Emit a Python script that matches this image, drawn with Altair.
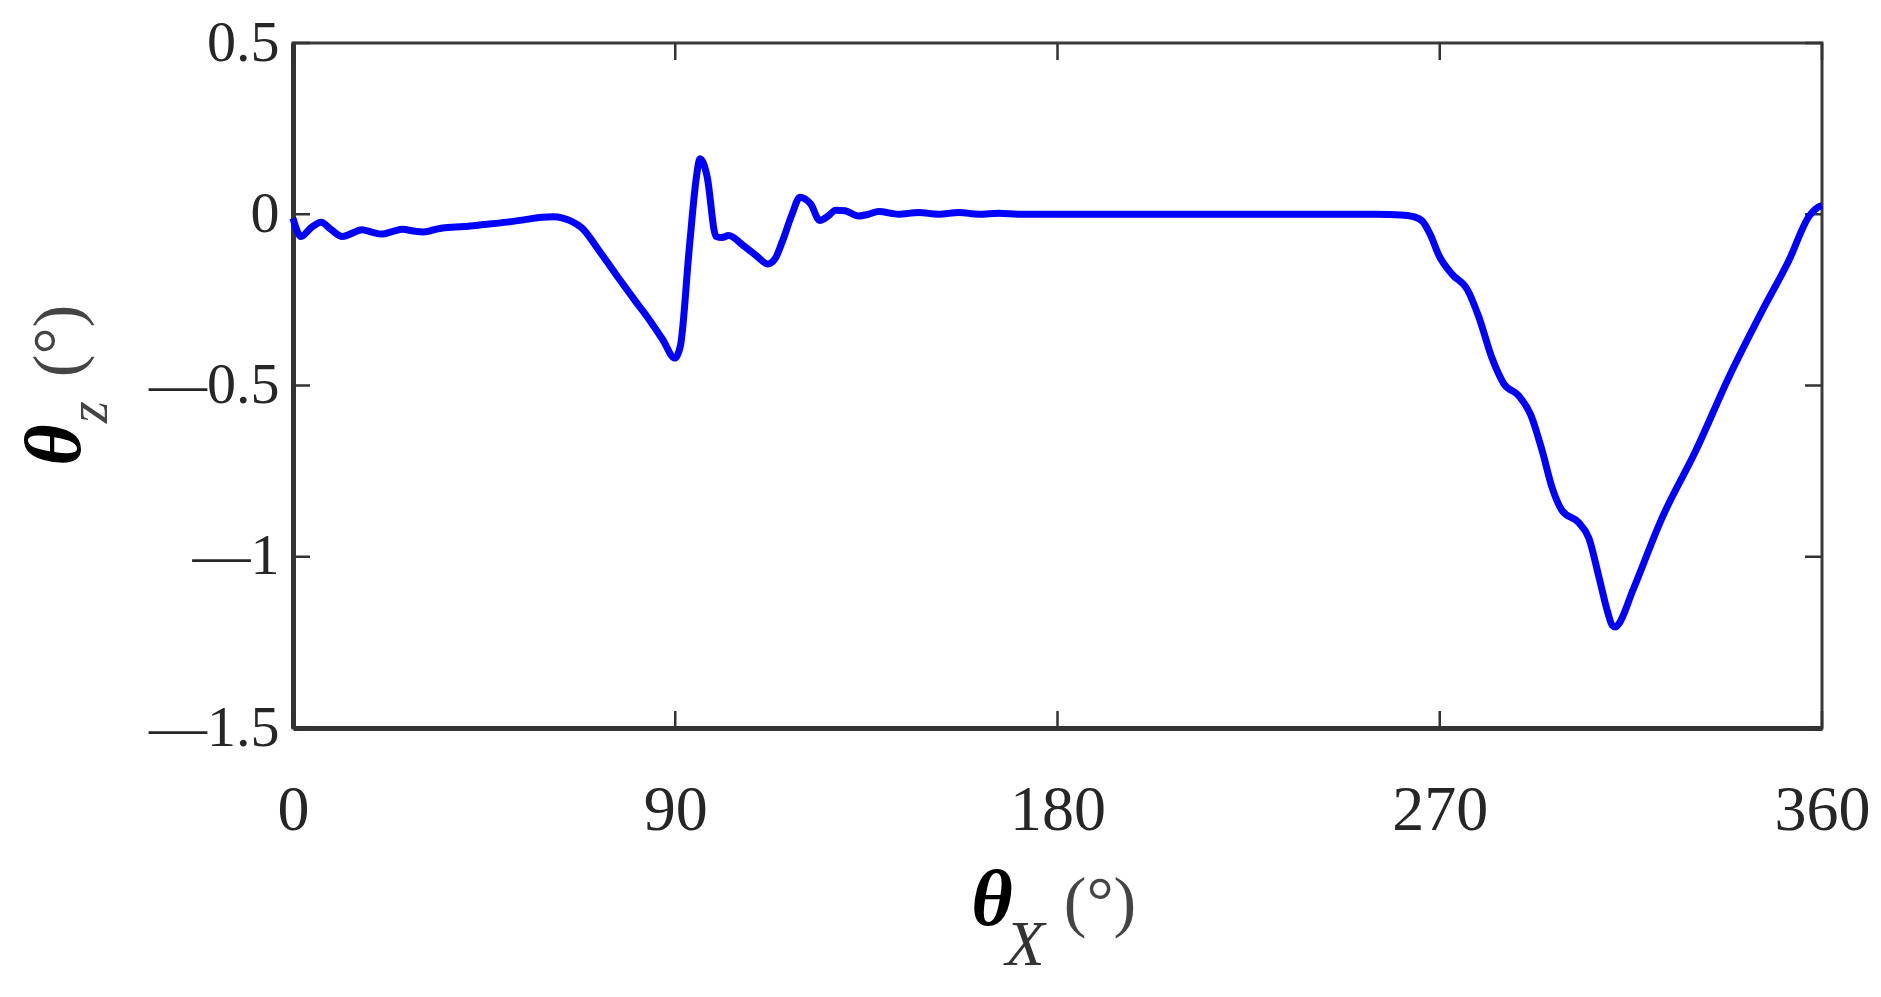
import altair as alt
import pandas as pd

# ---- data ----
theta_x = [0, 1.9, 4.2, 6.6, 9, 11.6, 14, 16.2, 18.5, 20.9, 23.5, 25.9, 28.3, 30.6, 33, 35.2,
           40.3, 45, 50.4, 55, 58.5, 61.3, 63.5, 65.5, 68, 72, 76, 80.7, 84, 87, 89.9, 91.2,
           93.3, 95, 95.8, 96.6, 97.5, 99.6, 101, 102.6, 105.9, 109, 111.8, 113.5, 115.2,
           117.5, 119.4, 120.5, 121.9, 124, 126, 127.8, 130, 133.2, 135.5, 137.9, 142.6,
           147.3, 152, 156.8, 161.5, 166.2, 171, 180, 200, 220, 240, 255, 261, 263.5, 265.9,
           267.8, 269.8, 272.9, 276.5, 279.2, 282.3, 285.1, 288.6, 291.4, 294.1, 296.5,
           298.8, 302.7, 305.1, 307.5, 309.5, 310.6, 311.4, 312.2, 315.4, 322.4, 330.3,
           338.1, 346, 352.2, 357, 359, 360]
theta_z = [-0.012, -0.065, -0.04, -0.023, -0.045, -0.065, -0.055, -0.045, -0.052, -0.058,
           -0.05, -0.044, -0.049, -0.052, -0.046, -0.04, -0.036, -0.03, -0.023, -0.015,
           -0.009, -0.007, -0.011, -0.02, -0.04, -0.105, -0.175, -0.255, -0.31, -0.365,
           -0.42, -0.385, -0.1, 0.11, 0.162, 0.15, 0.11, -0.065, -0.068, -0.062, -0.09,
           -0.12, -0.145, -0.13, -0.08, 0.0, 0.05, 0.045, 0.03, -0.018, -0.005, 0.012,
           0.01, -0.005, 0.0, 0.008, 0.0, 0.005, 0.0, 0.005, 0.0, 0.003, 0.0, 0.0, 0.0,
           0.0, 0.0, 0.0, -0.002, -0.006, -0.02, -0.06, -0.12, -0.175, -0.22, -0.30, -0.42,
           -0.495, -0.53, -0.585, -0.69, -0.80, -0.865, -0.90, -0.945, -1.06, -1.16, -1.2,
           -1.205, -1.195, -1.10, -0.885, -0.69, -0.475, -0.28, -0.135, -0.005, 0.02, 0.025]

x_ticks = [0, 90, 180, 270, 360]
y_ticks = [0.5, 0, -0.5, -1, -1.5]

x_title_parts = ["θ", "X", "(°)"]
y_title_parts = ["θ", "z", "(°)"]

W, H = 1529, 685
TICK = 17
FONT = "Liberation Serif"
AX = "#333333"

df = pd.DataFrame({"x": theta_x, "z": theta_z})
xt = pd.DataFrame({"v": x_ticks})
yt = pd.DataFrame({"v": y_ticks})

xscale = alt.Scale(domain=[0, 360], nice=False, zero=False)
yscale = alt.Scale(domain=[-1.5, 0.5], nice=False, zero=False)

xaxis = alt.Axis(values=x_ticks, title=None, grid=False, ticks=False, domainWidth=5,
                 domainColor=AX, labelFont=FONT, labelFontSize=64, labelColor="#262626",
                 labelPadding=50, labelFlush=False, labelOverlap=False, format="d")
yaxis = alt.Axis(values=y_ticks, title=None, grid=False, ticks=False, domainWidth=5,
                 domainColor=AX, labelFont=FONT, labelFontSize=58, labelColor="#262626",
                 labelPadding=14, labelFlush=False, labelOverlap=False, format=".1~f",
                 labelExpr="replace(datum.label, '−', '—')")

X = alt.X("x:Q", scale=xscale, axis=xaxis)
Y = alt.Y("z:Q", scale=yscale, axis=yaxis)

line = alt.Chart(df).mark_line(color="#0000ff", strokeWidth=7,
                               interpolate="monotone").encode(x=X, y=Y)

xtick_b = alt.Chart(xt).mark_rule(color=AX, strokeWidth=2.5).encode(
    x=alt.X("v:Q", scale=xscale, axis=xaxis), y=alt.value(H), y2=alt.value(H - TICK))
xtick_t = alt.Chart(xt).mark_rule(color=AX, strokeWidth=2.5).encode(
    x=alt.X("v:Q", scale=xscale, axis=xaxis), y=alt.value(0), y2=alt.value(TICK))
ytick_l = alt.Chart(yt).mark_rule(color=AX, strokeWidth=2.5).encode(
    y=alt.Y("v:Q", scale=yscale, axis=yaxis), x=alt.value(0), x2=alt.value(TICK))
ytick_r = alt.Chart(yt).mark_rule(color=AX, strokeWidth=2.5).encode(
    y=alt.Y("v:Q", scale=yscale, axis=yaxis), x=alt.value(W), x2=alt.value(W - TICK))


def txt(s, x, y, size, style="normal", weight="normal", angle=0, color="#222222"):
    return alt.Chart(pd.DataFrame({"t": [s]})).mark_text(
        font=FONT, fontSize=size, fontStyle=style, fontWeight=weight, angle=angle,
        align="center", baseline="alphabetic", color=color
    ).encode(text="t:N", x=alt.value(x), y=alt.value(y))


titles = [
    txt(x_title_parts[0], 699, 882, 80, "italic", "bold", color="#000000"),
    txt(x_title_parts[1], 732, 922, 64, "italic", color="#333333"),
    txt(x_title_parts[2], 807, 881, 68, color="#444444"),
    txt(y_title_parts[0], -213, 402, 80, "italic", "bold", angle=270, color="#000000"),
    txt(y_title_parts[1], -186, 369, 56, "italic", angle=270, color="#444444"),
    txt(y_title_parts[2], -213, 298, 68, angle=270, color="#444444"),
]

chart = alt.layer(xtick_b, xtick_t, ytick_l, ytick_r, line, *titles).properties(
    width=W, height=H,
    autosize=alt.AutoSizeParams(type="none"),
    padding={"left": 285, "top": 35, "right": 51, "bottom": 262},
).configure(background="white").configure_view(stroke="#3a3a3a", strokeWidth=3)

chart.save("out.html", embed_options={"renderer": "svg", "actions": False})
